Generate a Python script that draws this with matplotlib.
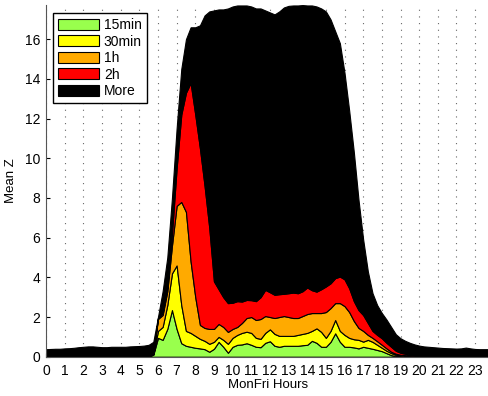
import numpy as np
import matplotlib
matplotlib.use("Agg")
import matplotlib.pyplot as plt

plt.rcParams['font.family'] = ['Liberation Sans', 'DejaVu Sans']

# quarter-hour bins, MonFri
hours = np.arange(96) / 4.0

# upper edge of each band (cumulative)
top_15min = [
    0.01, 0.01, 0.01, 0.01, 0.01, 0.01, 0.01, 0.01,
    0.01, 0.01, 0.01, 0.01, 0.01, 0.01, 0.01, 0.01,
    0.01, 0.01, 0.01, 0.01, 0.01, 0.01, 0.02, 0.10,
    0.95, 0.85, 1.40, 2.35, 1.40, 0.68, 0.55, 0.50,
    0.45, 0.42, 0.38, 0.25, 0.40, 0.75, 0.50, 0.20,
    0.50, 0.60, 0.62, 0.68, 0.60, 0.50, 0.48, 0.70,
    0.78, 0.55, 0.50, 0.55, 0.55, 0.55, 0.55, 0.58,
    0.60, 0.80, 0.70, 0.50, 0.50, 0.75, 1.18, 0.75,
    0.50, 0.50, 0.47, 0.42, 0.50, 0.45, 0.40, 0.34,
    0.28, 0.18, 0.08, 0.04, 0.02, 0.01, 0.01, 0.01,
    0.01, 0.01, 0.01, 0.01, 0.01, 0.01, 0.01, 0.01,
    0.01, 0.02, 0.05, 0.02, 0.01, 0.01, 0.01, 0.01,
]
top_30min = [
    0.02, 0.02, 0.02, 0.02, 0.02, 0.02, 0.02, 0.02,
    0.02, 0.02, 0.02, 0.02, 0.02, 0.02, 0.02, 0.02,
    0.02, 0.02, 0.02, 0.02, 0.02, 0.02, 0.03, 0.12,
    1.30, 1.50, 2.60, 4.20, 4.60, 2.60, 1.30, 1.20,
    1.05, 0.90, 0.80, 0.65, 0.75, 1.00, 0.85, 0.65,
    0.95, 1.10, 1.20, 1.26, 1.20, 0.95, 0.90, 1.20,
    1.38, 1.15, 1.05, 1.05, 1.05, 1.05, 1.10, 1.15,
    1.20, 1.30, 1.43, 1.25, 0.95, 1.30, 1.85, 1.30,
    1.10, 0.95, 0.88, 0.85, 0.76, 0.85, 0.75, 0.60,
    0.45, 0.30, 0.18, 0.10, 0.06, 0.04, 0.03, 0.03,
    0.02, 0.02, 0.02, 0.02, 0.02, 0.02, 0.02, 0.02,
    0.02, 0.03, 0.06, 0.03, 0.02, 0.02, 0.02, 0.02,
]
top_1h = [
    0.04, 0.04, 0.04, 0.04, 0.04, 0.04, 0.04, 0.04,
    0.04, 0.04, 0.04, 0.04, 0.04, 0.04, 0.04, 0.04,
    0.04, 0.04, 0.04, 0.04, 0.04, 0.04, 0.05, 0.15,
    1.90, 2.10, 3.30, 5.60, 7.60, 7.80, 7.30, 4.80,
    3.00, 1.60, 1.45, 1.40, 1.40, 1.65, 1.50, 1.25,
    1.40, 1.50, 1.70, 1.95, 2.00, 1.85, 1.90, 2.05,
    2.00, 1.95, 2.00, 2.05, 2.00, 1.95, 1.95, 2.05,
    2.15, 2.20, 2.20, 2.20, 2.25, 2.45, 2.70, 2.70,
    2.55, 2.25, 1.80, 1.45, 1.30, 1.10, 0.95, 0.78,
    0.60, 0.42, 0.25, 0.15, 0.10, 0.08, 0.06, 0.05,
    0.04, 0.04, 0.04, 0.04, 0.04, 0.04, 0.04, 0.04,
    0.04, 0.05, 0.08, 0.05, 0.04, 0.04, 0.04, 0.04,
]
top_2h = [
    0.06, 0.06, 0.06, 0.06, 0.06, 0.06, 0.06, 0.06,
    0.06, 0.06, 0.06, 0.06, 0.06, 0.06, 0.06, 0.06,
    0.06, 0.06, 0.06, 0.06, 0.06, 0.06, 0.08, 0.20,
    1.95, 2.20, 3.50, 6.20, 9.50, 12.20, 13.30, 13.80,
    12.20, 10.50, 8.60, 6.50, 3.80, 3.40, 3.00, 2.70,
    2.72, 2.80, 2.78, 2.86, 2.85, 2.80, 3.00, 3.37,
    3.25, 3.12, 3.15, 3.17, 3.20, 3.23, 3.20, 3.30,
    3.49, 3.35, 3.28, 3.40, 3.54, 3.70, 3.96, 4.04,
    3.90, 3.45, 2.80, 2.35, 2.10, 1.70, 1.30, 1.10,
    0.93, 0.70, 0.50, 0.30, 0.20, 0.15, 0.10, 0.08,
    0.06, 0.06, 0.06, 0.06, 0.06, 0.06, 0.06, 0.06,
    0.06, 0.07, 0.10, 0.07, 0.06, 0.06, 0.06, 0.06,
]
top_more = [
    0.38, 0.39, 0.40, 0.40, 0.42, 0.43, 0.45, 0.48,
    0.50, 0.52, 0.52, 0.50, 0.48, 0.48, 0.50, 0.50,
    0.50, 0.50, 0.52, 0.53, 0.54, 0.56, 0.60, 0.75,
    2.00, 3.30, 5.00, 8.00, 11.50, 14.50, 16.00, 16.60,
    16.60, 16.70, 17.20, 17.40, 17.45, 17.50, 17.50, 17.55,
    17.65, 17.70, 17.70, 17.70, 17.65, 17.55, 17.55, 17.45,
    17.35, 17.25, 17.40, 17.60, 17.68, 17.70, 17.70, 17.72,
    17.70, 17.70, 17.65, 17.55, 17.40, 17.00, 16.40, 15.80,
    14.30, 12.40, 10.30, 7.90, 5.90, 4.30, 3.20, 2.60,
    2.20, 1.87, 1.50, 1.13, 0.93, 0.80, 0.70, 0.62,
    0.56, 0.52, 0.50, 0.48, 0.46, 0.44, 0.43, 0.42,
    0.41, 0.42, 0.46, 0.42, 0.39, 0.38, 0.38, 0.38,
]

labels = ['15min', '30min', '1h', '2h', 'More']
colors = ['#99ff4d', '#ffff00', '#ffaa00', '#ff0000', '#000000']

tops = np.array([top_15min, top_30min, top_1h, top_2h, top_more])
layers = np.diff(np.vstack([np.zeros(96), tops]), axis=0)

fig = plt.figure(figsize=(4.88, 3.96), dpi=100)
ax = fig.add_axes([0.0943, 0.0992, 0.908, 0.888])

ax.stackplot(hours, layers, colors=colors, labels=labels,
             edgecolor='black', linewidth=0.8)

ax.set_xlim(0, 23.75)
ax.set_ylim(0, tops[-1].max())
ax.set_xticks(range(24))
ax.set_yticks(range(0, 17, 2))
ax.tick_params(direction='in', labelsize=10, length=3, pad=4,
               top=False, right=False)
ax.tick_params(axis='x', pad=5)
ax.xaxis.grid(True, linestyle=(0, (1, 5)), color='#666666', linewidth=0.8)
ax.set_axisbelow(True)

for s in ['top', 'right']:
    ax.spines[s].set_visible(False)
ax.spines['left'].set_color('#555555')
ax.spines['bottom'].set_color('#555555')

ax.set_xlabel('MonFri Hours', fontsize=9.5, labelpad=1)
ax.set_ylabel('Mean Z', fontsize=9.5, labelpad=6)

leg = ax.legend(loc='upper left', bbox_to_anchor=(0.016, 0.977), fontsize=10,
                fancybox=False, framealpha=1, edgecolor='black',
                handlelength=2.95, handleheight=0.85, labelspacing=0.18,
                borderaxespad=0, borderpad=0.35, handletextpad=0.35)
leg.get_frame().set_linewidth(1)

fig.savefig('out.png', dpi=100)
